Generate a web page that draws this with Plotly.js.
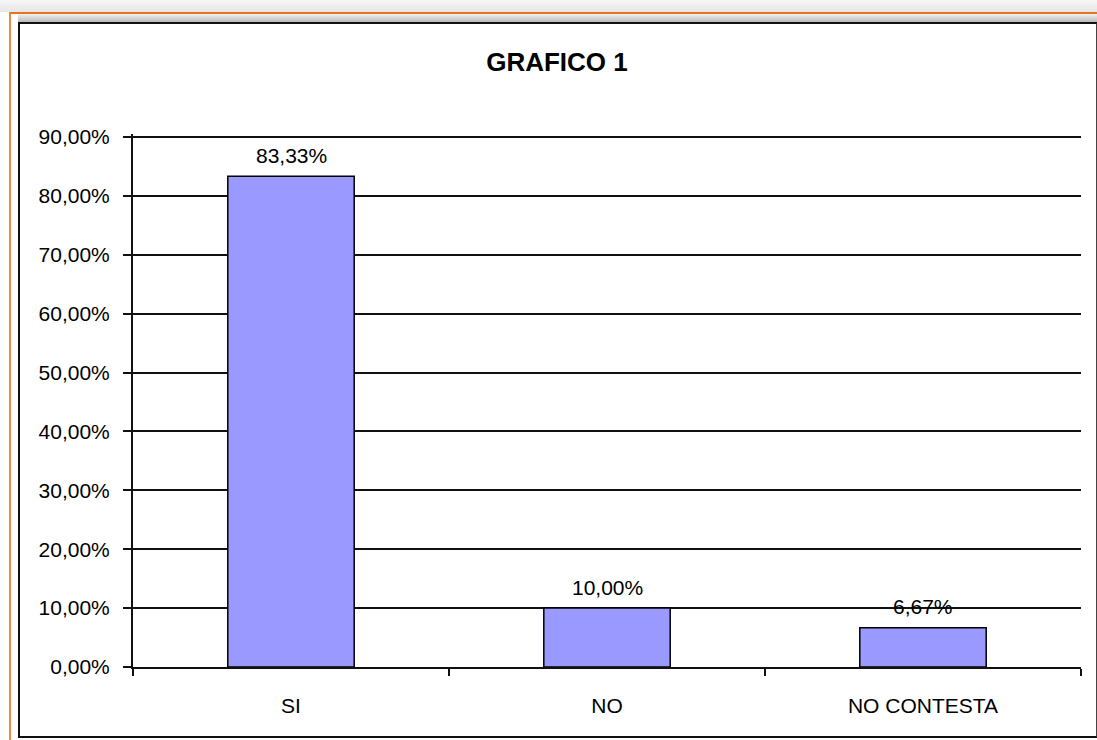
<!DOCTYPE html>
<html>
<head>
<meta charset="utf-8">
<script src="https://cdn.plot.ly/plotly-3.0.1.min.js"></script>
<style>
  html, body { margin: 0; padding: 0; width: 1097px; height: 740px; overflow: hidden; background: #ffffff; }
  #topbg { position: absolute; left: 0; top: 0; width: 1097px; height: 12px;
           background: linear-gradient(#f7f7f7, #e6e6e6); }
  #orange { position: absolute; left: 9px; top: 12px; width: 1100px; height: 740px;
            border-top: 2px solid #E8731E; border-left: 2px solid #EE8A3E; background: #fff; }
  #shadow { position: absolute; left: 18px; top: 14px; width: 1090px; height: 8px;
            background: linear-gradient(#f2f2f2, #b8b8b8); }
  #frame { position: absolute; left: 18px; top: 22px; width: 1076px; height: 712px;
           border: 2px solid #111; border-right: 2px solid #444; background: #fff; }
  #chart { position: absolute; left: 0; top: 0; width: 1097px; height: 740px; }
</style>
</head>
<body>
<div id="topbg"></div>
<div id="orange"></div>
<div id="shadow"></div>
<div id="frame"></div>
<div id="chart"></div>
<script>
const categories = ["SI", "NO", "NO CONTESTA"];
const values = [83.33, 10.00, 6.67];
const chartTitle = "GRAFICO 1";
const tickValues = [0, 10, 20, 30, 40, 50, 60, 70, 80, 90];
const tickLabels = ["0,00%", "10,00%", "20,00%", "30,00%", "40,00%", "50,00%", "60,00%", "70,00%", "80,00%", "90,00%"];

const FONT = "Liberation Sans, Arial, sans-serif";

const fmt = v => v.toFixed(2).replace('.', ',') + '%';

const trace = {
  type: 'bar',
  x: categories,
  y: values,
  width: 0.4,
  marker: { color: '#9999FF', line: { color: '#000000', width: 1.5 } },
  hoverinfo: 'none'
};

const annotations = categories.map((c, i) => ({
  x: c, y: values[i], xref: 'x', yref: 'y',
  text: fmt(values[i]), showarrow: false,
  yanchor: 'middle', yshift: 21,
  font: { family: FONT, size: 21, color: '#000' }
}));

const layout = {
  width: 1097, height: 740,
  margin: { l: 133, r: 16, t: 134, b: 73 },
  paper_bgcolor: 'rgba(0,0,0,0)',
  plot_bgcolor: 'rgba(0,0,0,0)',
  showlegend: false,
  title: {
    text: '<b>' + chartTitle + '</b>',
    xref: 'container', yref: 'container',
    x: 557 / 1097, xanchor: 'center',
    y: 1 - 62 / 740, yanchor: 'middle',
    font: { family: FONT, size: 26, color: '#000' }
  },
  xaxis: {
    type: 'category',
    tickson: 'boundaries',
    ticks: 'outside', ticklen: 7, tickwidth: 2, tickcolor: '#111',
    showline: true, linecolor: '#111', linewidth: 2,
    showgrid: false, zeroline: false,
    tickfont: { family: FONT, size: 21, color: '#000' },
    ticklabelstandoff: 19,
    fixedrange: true
  },
  yaxis: {
    range: [0, 90.5],
    tickmode: 'array',
    tickvals: tickValues,
    ticktext: tickLabels,
    ticks: 'outside', ticklen: 8, tickwidth: 2, tickcolor: '#111',
    showline: true, linecolor: '#111', linewidth: 2,
    showgrid: true, gridcolor: '#111', gridwidth: 2,
    zeroline: false,
    tickfont: { family: FONT, size: 21, color: '#000' },
    ticklabelstandoff: 9,
    fixedrange: true
  },
  annotations: annotations
};

Plotly.newPlot('chart', [trace], layout, { displayModeBar: false, staticPlot: true });
</script>
</body>
</html>
